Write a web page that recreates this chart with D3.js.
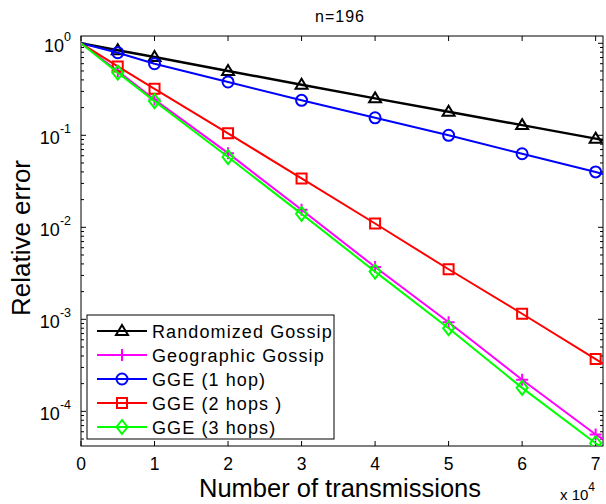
<!DOCTYPE html>
<html><head><meta charset="utf-8">
<script src="https://cdn.jsdelivr.net/npm/d3@7"></script>
<style>body{margin:0;background:#fff;} text{font-family:Arial,"Liberation Sans",sans-serif;}</style>
</head><body>
<svg id="c" width="606" height="504"></svg>
<script>
const xValues = [0, 0.5, 1, 2, 3, 4, 5, 6, 7, 7.1];
const markerIdx = [1, 2, 3, 4, 5, 6, 7, 8];
const seriesNames = ["Randomized Gossip", "Geographic Gossip", "GGE (1 hop)", "GGE (2 hops )", "GGE (3 hops)"];
const seriesColors = ["#000000", "#ff00ff", "#0000ff", "#ff0000", "#00ff00"];
const seriesMarkers = ["triangle", "plus", "circle", "square", "diamond"];
const randomizedGossip = [1, 0.84, 0.71, 0.50, 0.355, 0.252, 0.180, 0.129, 0.092, 0.089];
const geographicGossip = [1, 0.50, 0.245, 0.064, 0.0155, 0.0037, 0.00093, 0.00022, 0.000056, 0.000050];
const gge1 = [1, 0.79, 0.60, 0.38, 0.24, 0.155, 0.10, 0.063, 0.040, 0.038];
const gge2 = [1, 0.56, 0.32, 0.105, 0.034, 0.011, 0.0035, 0.00115, 0.00037, 0.00033];
const gge3 = [1, 0.48, 0.235, 0.058, 0.014, 0.0033, 0.0008, 0.00018, 0.000045, 0.000040];
const seriesValues = [randomizedGossip, geographicGossip, gge1, gge2, gge3];
const xTicks = [0, 1, 2, 3, 4, 5, 6, 7];
const yTickExps = [0, -1, -2, -3, -4];

const svg = d3.select("#c");
const L = 81, R = 603, T = 36, B = 446;
const x = d3.scaleLinear().domain([0, 7.1]).range([L, R]);
const y = d3.scaleLog().domain([4.2e-5, 1.2]).range([B, T]);

svg.append("rect").attr("x", L).attr("y", T).attr("width", R - L).attr("height", B - T)
  .attr("fill", "none").attr("stroke", "#000").attr("stroke-width", 1);

const g = svg.append("g");
xTicks.forEach(t => {
  const px = x(t);
  g.append("line").attr("x1", px).attr("x2", px).attr("y1", B).attr("y2", B - 5).attr("stroke", "#000");
  g.append("line").attr("x1", px).attr("x2", px).attr("y1", T).attr("y2", T + 5).attr("stroke", "#000");
  g.append("text").attr("x", px).attr("y", 470).attr("text-anchor", "middle").attr("font-size", 17.5).text(t);
});
for (let e = -5; e <= 0; e++) {
  for (let m = 1; m <= 9; m++) {
    const v = m * Math.pow(10, e);
    if (v < y.domain()[0] || v > y.domain()[1]) continue;
    const py = y(v);
    const len = m === 1 ? 5 : 3;
    g.append("line").attr("x1", L).attr("x2", L + len).attr("y1", py).attr("y2", py).attr("stroke", "#000");
    g.append("line").attr("x1", R).attr("x2", R - len).attr("y1", py).attr("y2", py).attr("stroke", "#000");
  }
}
yTickExps.forEach(e => {
  const py = y(Math.pow(10, e));
  const t = g.append("text").attr("x", 71).attr("y", py + 9).attr("text-anchor", "end").attr("font-size", 18);
  t.append("tspan").text("10");
  t.append("tspan").attr("dy", -11).attr("font-size", 12.5).text(e);
});

const line = d3.line().x((d, i) => x(xValues[i])).y(d => y(d));
svg.append("clipPath").attr("id", "clp").append("rect").attr("x", L).attr("y", T).attr("width", R - L).attr("height", B - T);
const plot = svg.append("g").attr("clip-path", "url(#clp)");

function drawMarker(sel, type, cx, cy, color) {
  const s = sel.append("path").attr("fill", "none").attr("stroke", color).attr("stroke-width", 2);
  let d;
  if (type === "triangle") d = `M${cx},${cy - 6}L${cx + 6},${cy + 4}L${cx - 6},${cy + 4}Z`;
  else if (type === "plus") d = `M${cx - 6},${cy}L${cx + 6},${cy}M${cx},${cy - 6}L${cx},${cy + 6}`;
  else if (type === "circle") d = `M${cx + 5.5},${cy}A5.5,5.5 0 1,1 ${cx - 5.5},${cy}A5.5,5.5 0 1,1 ${cx + 5.5},${cy}`;
  else if (type === "square") d = `M${cx - 5},${cy - 5}L${cx + 5},${cy - 5}L${cx + 5},${cy + 5}L${cx - 5},${cy + 5}Z`;
  else if (type === "diamond") d = `M${cx},${cy - 7}L${cx + 5.5},${cy}L${cx},${cy + 7}L${cx - 5.5},${cy}Z`;
  s.attr("d", d);
}

seriesValues.forEach((vals, si) => {
  plot.append("path").attr("d", line(vals)).attr("fill", "none").attr("stroke", seriesColors[si]).attr("stroke-width", si === 0 ? 2.5 : 2);
  markerIdx.forEach(i => drawMarker(plot, seriesMarkers[si], x(xValues[i]), y(vals[i]), seriesColors[si]));
});

const lg = svg.append("g");
lg.append("rect").attr("x", 87).attr("y", 315).attr("width", 247).attr("height", 124)
  .attr("fill", "#fff").attr("stroke", "#000").attr("stroke-width", 1);
seriesNames.forEach((n, i) => {
  const ly = 331 + i * 24;
  lg.append("line").attr("x1", 97).attr("x2", 147).attr("y1", ly).attr("y2", ly).attr("stroke", seriesColors[i]).attr("stroke-width", 2);
  drawMarker(lg, seriesMarkers[i], 122, ly, seriesColors[i]);
  lg.append("text").attr("x", 152).attr("y", ly + 7).attr("font-size", 18).attr("letter-spacing", 1.1).text(n);
});

svg.append("text").attr("x", 340).attr("y", 22).attr("text-anchor", "middle").attr("font-size", 16).attr("letter-spacing", 1).text("n=196");
svg.append("text").attr("x", 340).attr("y", 497).attr("text-anchor", "middle").attr("font-size", 25.5).text("Number of transmissions");
svg.append("text").attr("transform", "translate(30,238) rotate(-90)").attr("text-anchor", "middle").attr("font-size", 26).text("Relative error");
const xm = svg.append("text").attr("x", 560).attr("y", 500).attr("font-size", 15);
xm.append("tspan").text("x 10");
xm.append("tspan").attr("dy", -9).attr("font-size", 12).text("4");
</script>
</body></html>
